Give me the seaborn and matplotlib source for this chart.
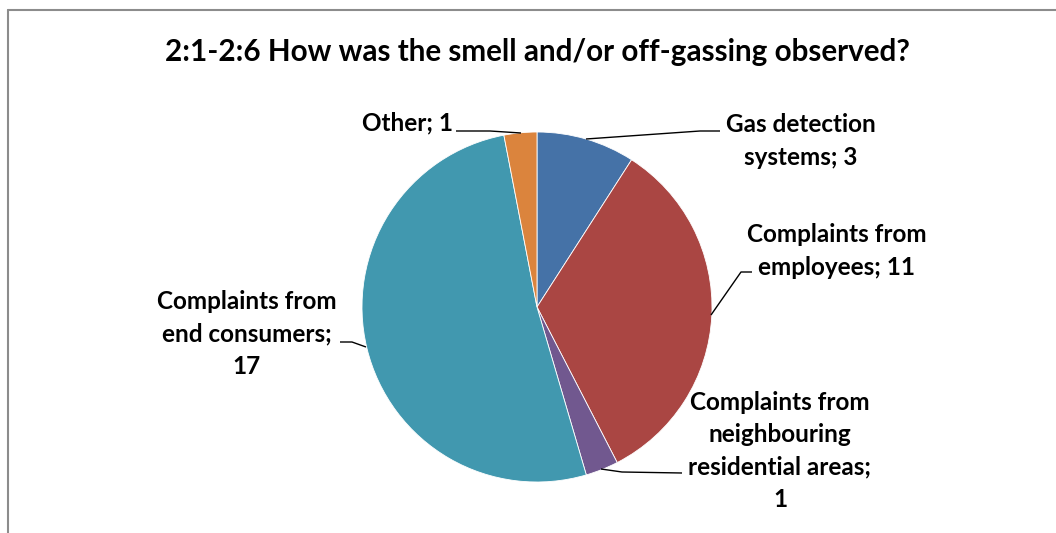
import matplotlib
matplotlib.use("Agg")
import matplotlib.pyplot as plt
from matplotlib.lines import Line2D
import seaborn as sns

# Survey answers: how the smell / off-gassing was observed
categories = [
    "Gas detection\nsystems",
    "Complaints from\nemployees",
    "Complaints from\nneighbouring\nresidential areas",
    "Complaints from\nend consumers",
    "Other",
]
counts = [3, 11, 1, 17, 1]
separators = ["; ", "; ", ";\n", ";\n", "; "]
colors = ["#4572A7", "#AA4643", "#71588F", "#4198AF", "#DB843D"]

title = "2:1-2:6 How was the smell and/or off-gassing observed?"

sns.set_theme(style="white")
plt.rcParams["font.family"] = ["Lato", "DejaVu Sans"]

W, H = 1056, 533
fig = plt.figure(figsize=(W / 100, H / 100), dpi=100)
ax = fig.add_axes([0, 0, 1, 1])

# pixel layout helpers: pie centre and radius in pixels
CX, CY, R = 537, 307, 175


def px(x, y):
    return ((x - CX) / R, (CY - y) / R)


ax.pie(
    counts,
    colors=colors,
    startangle=90,
    counterclock=False,
    radius=1.0,
    center=(0, 0),
    wedgeprops=dict(edgecolor="white", linewidth=0.6),
    frame=False,
)
ax.set_xlim(-CX / R, (W - CX) / R)
ax.set_ylim((CY - H) / R, CY / R)
ax.set_aspect("auto")
ax.axis("off")

# label text positions and leader paths (pixel space)
label_pos = [(801, 141), (837, 251), (780, 451), (247, 334), (408, 123)]
leaders = [
    [(586, 139), (700, 131), (720, 131)],
    [(711, 315), (741, 272), (752, 272)],
    [(601, 469), (622, 472), (682, 473)],
    [(366, 347), (352, 342), (340, 342)],
    [(521, 133), (490, 131), (456, 131)],
]

for cat, val, sep, pos, path in zip(categories, counts, separators, label_pos, leaders):
    ax.text(*px(*pos), f"{cat}{sep}{val}", ha="center", va="center",
            fontsize=17.5, fontweight="bold", color="black",
            linespacing=1.5, multialignment="center")
    xs, ys = zip(*[px(*p) for p in path])
    ax.plot(xs, ys, color="black", linewidth=1.0, solid_capstyle="butt")

fig.text(CX / W, 1 - 52 / H, title, ha="center", va="center",
         fontsize=21.3, fontweight="bold", color="black")

# chart-area border (top and left edges)
fig.add_artist(Line2D([8 / W, 1.0], [1 - 10 / H, 1 - 10 / H],
                      transform=fig.transFigure, color="#8c8c8c", linewidth=1.5))
fig.add_artist(Line2D([8 / W, 8 / W], [0.0, 1 - 10 / H],
                      transform=fig.transFigure, color="#8c8c8c", linewidth=1.5))

fig.savefig("out.png", dpi=100, facecolor="white")
